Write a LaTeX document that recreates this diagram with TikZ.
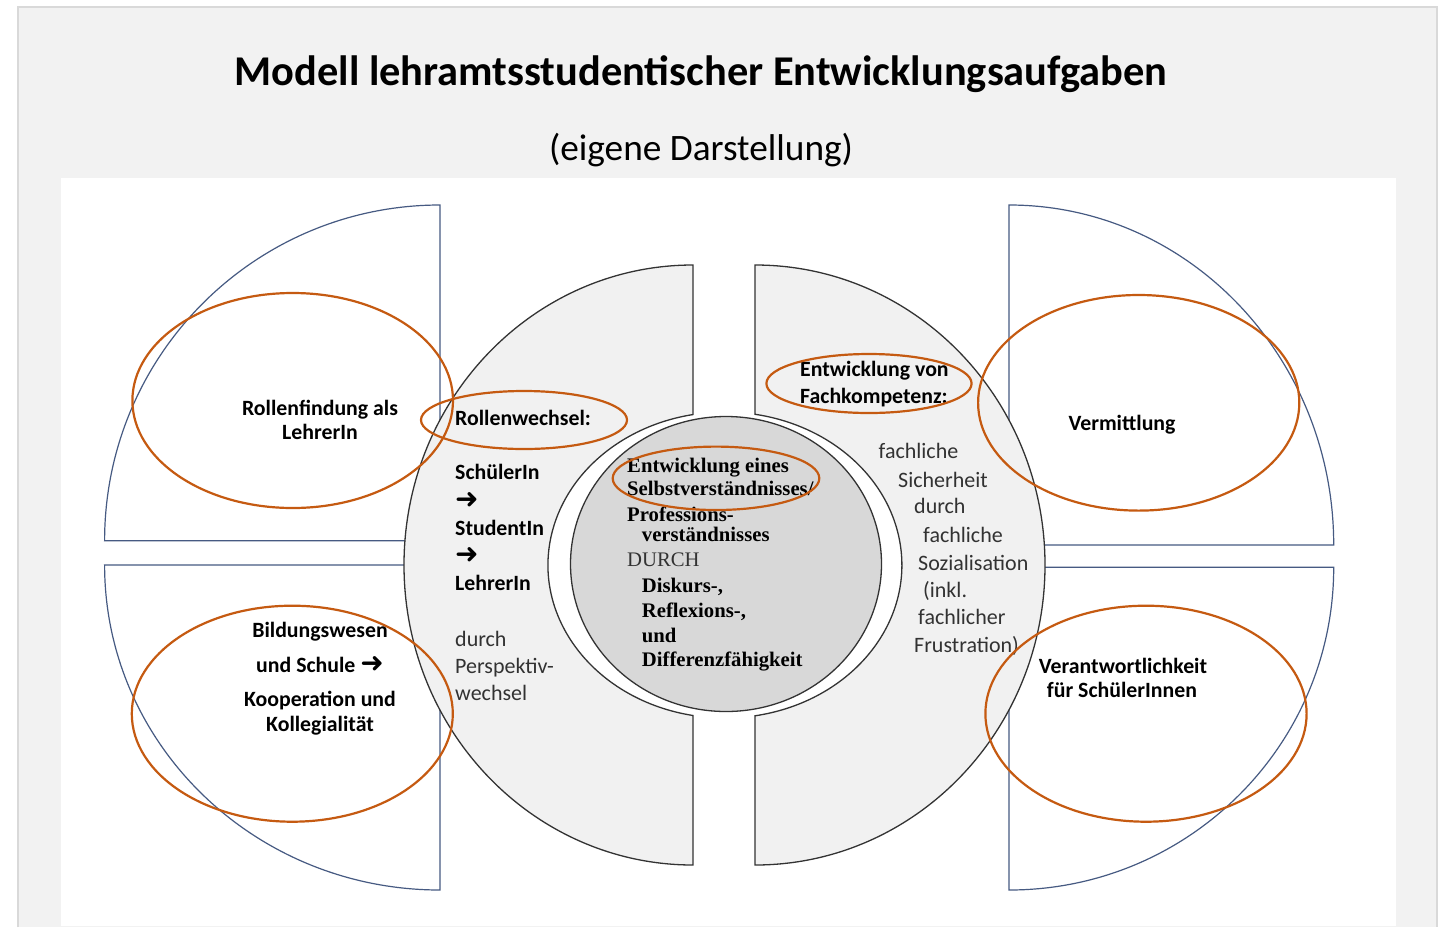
\documentclass[tikz,border=0pt]{standalone}
\usepackage{fontspec}
\setmainfont{Carlito}
\newfontfamily\serifface{Liberation Serif}
\newfontfamily\arrowface{DejaVu Sans}
\usetikzlibrary{calc}
\definecolor{panelgray}{RGB}{242,242,242}
\definecolor{framegray}{RGB}{217,217,217}
\definecolor{sectorblue}{RGB}{70,90,130}
\definecolor{ringgray}{RGB}{241,241,241}
\definecolor{coregray}{RGB}{216,216,216}
\definecolor{markorange}{RGB}{197,90,17}
\definecolor{textgray}{RGB}{50,50,50}
\tikzstyle{sector}=[draw=sectorblue,fill=white,line width=1.2pt]
\tikzstyle{halfring}=[draw=black!80,fill=ringgray,line width=1.3pt]
\tikzstyle{core}=[draw=black!80,fill=coregray,line width=1.3pt]
\tikzstyle{highlight}=[draw=markorange,line width=2.2pt]
\tikzstyle{tasklabel}=[font=\fontsize{21.8}{25}\selectfont\bfseries,anchor=base,inner sep=0pt]
\tikzstyle{boldline}=[font=\fontsize{21.8}{25}\selectfont\bfseries,anchor=base west,inner sep=0pt]
\tikzstyle{plainline}=[font=\fontsize{22}{27}\selectfont,text=textgray,anchor=base west,inner sep=0pt]
\tikzstyle{coreline}=[font=\serifface\bfseries\fontsize{20.7}{25}\selectfont,anchor=base west,inner sep=0pt]
\newcommand{\thickarrow}{{\arrowface\fontsize{28}{25}\selectfont ➜}}

\begin{document}
\begin{tikzpicture}[x=1pt,y=-1pt]
    \useasboundingbox (0,0) rectangle (1450,927);

    % page and panel
    \fill[white] (0,0) rectangle (1450,927);
    \fill[panelgray] (18,7) rectangle (1437,927);
    \draw[framegray,line width=2.5pt] (18,927) -- (18,7) -- (1437,7) -- (1437,927);
    \fill[white] (61,178) rectangle (1396,926);

    \node[font=\fontsize{42.4}{50}\selectfont\bfseries,anchor=base] (title) at (701,85) {Modell lehramtsstudentischer Entwicklungsaufgaben};
    \node[font=\fontsize{37.3}{44}\selectfont,anchor=base] (subtitle) at (701,160) {(eigene Darstellung)};

    % outer quarters
    \path[sector] (440,540.7) -- (104.6,540.7) arc[start angle=180,end angle=270,x radius=335.4,y radius=335.7] -- cycle;
    \path[sector] (440,565) -- (104.6,565) arc[start angle=180,end angle=90,x radius=335.4,y radius=325] -- cycle;
    \path[sector] (1009,545) -- (1333.7,545) arc[start angle=0,end angle=-90,x radius=324.7,y radius=340] -- cycle;
    \path[sector] (1009,567.3) -- (1333.7,567.3) arc[start angle=0,end angle=90,x radius=324.7,y radius=322.7] -- cycle;

    % ring halves and core
    \path[halfring] (693,265) arc[start angle=270,end angle=90,x radius=289,y radius=300]
        -- (693,715.5) arc[start angle=100.4,end angle=259.6,x radius=177,y radius=153] -- cycle;
    \path[halfring] (755,265) arc[start angle=-90,end angle=90,x radius=290,y radius=300]
        -- (755,715.8) arc[start angle=80.2,end angle=-80.2,x radius=177,y radius=153] -- cycle;
    \path[core] (726,564) ellipse[x radius=155.5,y radius=147.5];

    \foreach \pos/\name/\text in {{(320,415)/rf1/{Rollenfindung als}}, {(320,439)/rf2/{LehrerIn}},
        {(1122,430)/ver/{Vermittlung}},
        {(320,637)/bw1/{Bildungswesen}}, {(320,672)/bw2/{und Schule \thickarrow}},
        {(320,706)/bw3/{Kooperation und}}, {(320,731)/bw4/{Kollegialität}},
        {(1123,673)/vs1/{Verantwortlichkeit}}, {(1122,697)/vs2/{für SchülerInnen}}}
        \node[tasklabel] (\name) at \pos {\text};

    \foreach \pos/\name/\text in {{(455,425)/rw/{Rollenwechsel:}}, {(455,479)/rs/{SchülerIn}},
        {(455,508)/ra1/{\thickarrow}}, {(455,535)/rst/{StudentIn}},
        {(455,563)/ra2/{\thickarrow}}, {(455,590)/rl/{LehrerIn}},
        {(800,376)/fk1/{Entwicklung von}}, {(800,403)/fk2/{Fachkompetenz:}}}
        \node[boldline] (\name) at \pos {\text};

    \foreach \pos/\name/\text in {{(455,646)/pd/{durch}}, {(455,673)/pp/{Perspektiv-}}, {(455,700)/pw/{wechsel}},
        {(878.5,458)/fs1/{fachliche}}, {(898,487)/fs2/{Sicherheit}}, {(914,513)/fs3/{durch}},
        {(923,542)/fs4/{fachliche}}, {(918,570)/fs5/{Sozialisation}}, {(923,597)/fs6/{(inkl.}},
        {(918,624)/fs7/{fachlicher}}, {(914,652)/fs8/{Frustration)}}}
        \node[plainline] (\name) at \pos {\text};

    \foreach \pos/\name/\text in {{(627,472.7)/sv1/{Entwicklung eines}}, {(627,495)/sv2/{Selbstverständnisses/}},
        {(627,521.7)/sv3/{Professions-}}, {(641.7,541.7)/sv4/{verständnisses}},
        {(641.7,592.7)/dk1/{Diskurs-,}}, {(641.7,617)/dk2/{Reflexions-,}},
        {(641.7,642)/dk3/{und}}, {(641.7,666.7)/dk4/{Differenzfähigkeit}}}
        \node[coreline] (\name) at \pos {\text};
    \node[coreline,font=\serifface\fontsize{20.7}{25}\selectfont,text=textgray] (durch) at (627,566.7) {DURCH};

    % orange markings
    \foreach \cx/\cy/\rx/\ry in {292.7/400.5/160.3/107.5, 524/420/103/29, 716/478.3/103.3/31.7,
        869/383.5/102.6/29.5, 1138.7/402.8/160.6/107.8, 292.3/713.7/160.5/108, 1146/713.7/160.6/108}
        \draw[highlight] (\cx,\cy) ellipse[x radius=\rx,y radius=\ry];

\end{tikzpicture}
\end{document}
